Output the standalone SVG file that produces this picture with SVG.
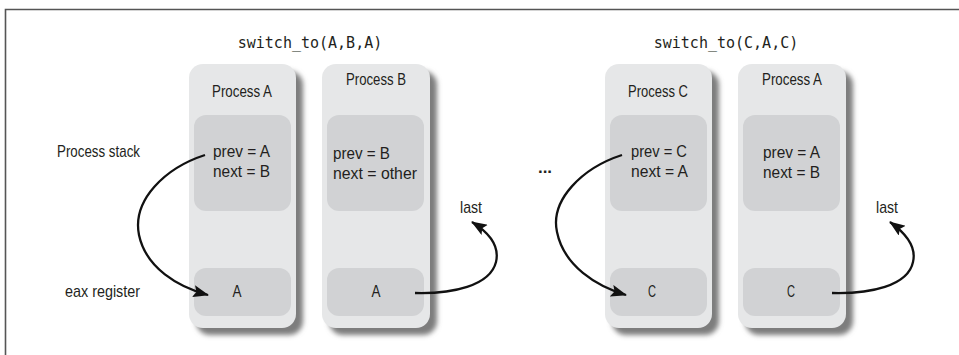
<svg xmlns="http://www.w3.org/2000/svg" width="959" height="355" viewBox="0 0 959 355">
<style>
.col{fill:#e6e7e8}
.shd{fill:#7d7d7d;filter:url(#blur)}
.inn{fill:#d1d2d4}
.lbl{font-family:"Liberation Sans",Arial,sans-serif;font-size:17px;fill:#231f20}
.mono{font-family:"DejaVu Sans Mono","Liberation Mono",monospace;font-size:15px;fill:#231f20}
.mid{text-anchor:middle}
.arr{fill:none;stroke:#111;stroke-width:2.3;marker-end:url(#ah)}
</style>
<defs>
<filter id="blur" x="-20%" y="-20%" width="140%" height="140%"><feGaussianBlur stdDeviation="2.5"/></filter>
<marker id="ah" viewBox="0 0 16 12" refX="15" refY="6" markerWidth="17" markerHeight="12" markerUnits="userSpaceOnUse" orient="auto"><path d="M0,0 L16,6 L0,12 L3,6 z" fill="#111"/></marker>
</defs>
<rect width="959" height="355" fill="#fff"/>
<path d="M5.5,355 V9.5 H959" fill="none" stroke="#555" stroke-width="1.6"/>
<text class="mono mid" x="310" y="48">switch_to(A,B,A)</text>
<text class="mono mid" x="726" y="48">switch_to(C,A,C)</text>
<g id="procA1">
<rect class="shd" x="196" y="71" width="107" height="264" rx="14"/>
<rect class="col" x="189" y="64" width="107" height="264" rx="14"/>
<rect class="inn" x="194" y="115" width="97" height="96" rx="12"/>
<rect class="inn" x="194" y="268" width="97" height="48" rx="12"/>
<text class="lbl mid" x="242" y="97" textLength="60" lengthAdjust="spacingAndGlyphs">Process A</text>
<text class="lbl" x="213" y="157" textLength="57" lengthAdjust="spacingAndGlyphs">prev = A</text>
<text class="lbl" x="213" y="177" textLength="57" lengthAdjust="spacingAndGlyphs">next = B</text>
<text class="lbl mid" x="237" y="297" textLength="9" lengthAdjust="spacingAndGlyphs">A</text>
</g>
<g id="procB">
<rect class="shd" x="329" y="71" width="108" height="264" rx="14"/>
<rect class="col" x="322" y="64" width="108" height="264" rx="14"/>
<rect class="inn" x="327" y="115" width="97" height="96" rx="12"/>
<rect class="inn" x="327" y="268" width="97" height="48" rx="12"/>
<text class="lbl mid" x="376" y="85" textLength="60" lengthAdjust="spacingAndGlyphs">Process B</text>
<text class="lbl" x="333" y="159" textLength="57" lengthAdjust="spacingAndGlyphs">prev = B</text>
<text class="lbl" x="333" y="179" textLength="84" lengthAdjust="spacingAndGlyphs">next = other</text>
<text class="lbl mid" x="376" y="297" textLength="9" lengthAdjust="spacingAndGlyphs">A</text>
</g>
<g id="procC">
<rect class="shd" x="612" y="71" width="107" height="264" rx="14"/>
<rect class="col" x="605" y="64" width="107" height="264" rx="14"/>
<rect class="inn" x="610" y="115" width="97" height="96" rx="12"/>
<rect class="inn" x="610" y="268" width="97" height="48" rx="12"/>
<text class="lbl mid" x="658" y="97" textLength="60" lengthAdjust="spacingAndGlyphs">Process C</text>
<text class="lbl" x="631" y="157" textLength="56" lengthAdjust="spacingAndGlyphs">prev = C</text>
<text class="lbl" x="631" y="177" textLength="57" lengthAdjust="spacingAndGlyphs">next = A</text>
<text class="lbl mid" x="652" y="297" textLength="8" lengthAdjust="spacingAndGlyphs">C</text>
</g>
<g id="procA2">
<rect class="shd" x="745" y="71" width="108" height="264" rx="14"/>
<rect class="col" x="738" y="64" width="108" height="264" rx="14"/>
<rect class="inn" x="743" y="115" width="97" height="96" rx="12"/>
<rect class="inn" x="743" y="268" width="97" height="48" rx="12"/>
<text class="lbl mid" x="792" y="85" textLength="60" lengthAdjust="spacingAndGlyphs">Process A</text>
<text class="lbl" x="763" y="158" textLength="57" lengthAdjust="spacingAndGlyphs">prev = A</text>
<text class="lbl" x="763" y="178" textLength="57" lengthAdjust="spacingAndGlyphs">next = B</text>
<text class="lbl mid" x="791" y="297" textLength="8" lengthAdjust="spacingAndGlyphs">C</text>
</g>
<g id="labels">
<text class="lbl" x="57" y="157" textLength="83" lengthAdjust="spacingAndGlyphs">Process stack</text>
<text class="lbl" x="65" y="297" textLength="75" lengthAdjust="spacingAndGlyphs">eax register</text>
<text class="lbl" x="460" y="213" textLength="22" lengthAdjust="spacingAndGlyphs">last</text>
<text class="lbl" x="876" y="213" textLength="22" lengthAdjust="spacingAndGlyphs">last</text>
<text class="lbl mid" x="545" y="173" style="font-weight:bold">...</text>
</g>
<g id="connectors">
<path class="arr" d="M205,155 C165,168 132,200 139,235 C146,268 178,287 208,295"/>
<path class="arr" d="M415,293 C452,294 490,286 496,262 C500,245 488,232 472,222"/>
<path class="arr" d="M622,155 C582,168 550,200 557,232 C564,266 596,286 626,295"/>
<path class="arr" d="M832,293 C870,294 908,286 913,262 C917,245 904,232 890,222"/>
</g>
</svg>
